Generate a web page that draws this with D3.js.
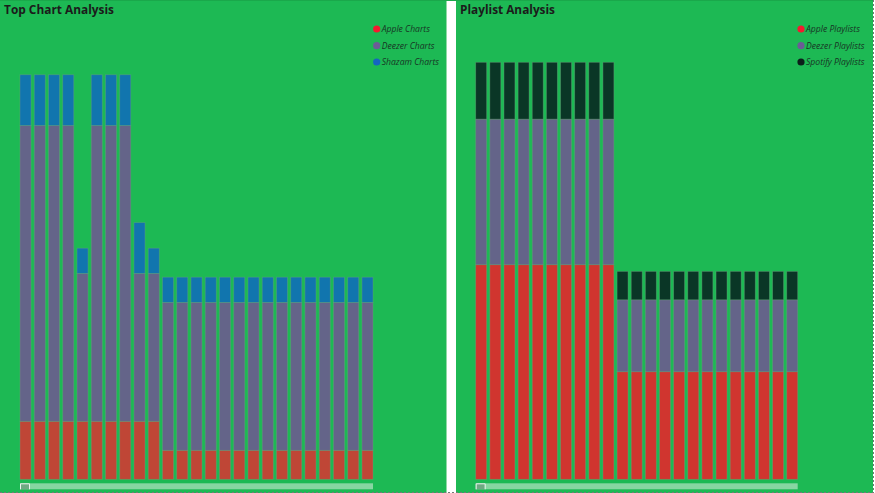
<!DOCTYPE html>
<html><head><meta charset="utf-8">
<script src="https://cdn.jsdelivr.net/npm/d3@7"></script>
<style>html,body{margin:0;padding:0;background:#fff;overflow:hidden}</style>
</head><body>
<script>
// ---- Data ----
const chartCats = d3.range(1, 26).map(i => "Track " + i);
const appleCharts  = [20,20,20,20,20,20,20,20,20,20,10,10,10,10,10,10,10,10,10,10,10,10,10,10,10];
const deezerCharts = [102,102,102,102,51,102,102,102,51,51,51,51,51,51,51,51,51,51,51,51,51,51,51,51,51];
const shazamCharts = [17.5,17.5,17.5,17.5,8.7,17.5,17.5,17.5,17.5,8.7,8.7,8.7,8.7,8.7,8.7,8.7,8.7,8.7,8.7,8.7,8.7,8.7,8.7,8.7,8.7];

const playCats = d3.range(1, 24).map(i => "Track " + i);
const applePlaylists   = [74,74,74,74,74,74,74,74,74,74,37.1,37.1,37.1,37.1,37.1,37.1,37.1,37.1,37.1,37.1,37.1,37.1,37.1];
const deezerPlaylists  = [50.2,50.2,50.2,50.2,50.2,50.2,50.2,50.2,50.2,50.2,24.8,24.8,24.8,24.8,24.8,24.8,24.8,24.8,24.8,24.8,24.8,24.8,24.8];
const spotifyPlaylists = [19.6,19.6,19.6,19.6,19.6,19.6,19.6,19.6,19.6,19.6,9.8,9.8,9.8,9.8,9.8,9.8,9.8,9.8,9.8,9.8,9.8,9.8,9.8];

const leftTitle = "Top Chart Analysis";
const rightTitle = "Playlist Analysis";
const leftSeries = ["Apple Charts", "Deezer Charts", "Shazam Charts"];
const rightSeries = ["Apple Playlists", "Deezer Playlists", "Spotify Playlists"];

// ---- Drawing ----
const W = 875, H = 493;
const svg = d3.select("body").append("svg").attr("width", W).attr("height", H);
const bg = "#1DB954";

svg.append("rect").attr("x",0).attr("y",0).attr("width",W).attr("height",H).attr("fill","#fff");
svg.append("rect").attr("x",0).attr("y",0).attr("width",447).attr("height",H).attr("fill",bg);
svg.append("rect").attr("x",456).attr("y",0).attr("width",417).attr("height",H).attr("fill",bg);
svg.append("line").attr("x1",446.5).attr("x2",446.5).attr("y1",0).attr("y2",H).attr("stroke","#8fd9a6").attr("stroke-width",1);
svg.append("line").attr("x1",0).attr("x2",873).attr("y1",0.5).attr("y2",0.5).attr("stroke","#1aa84b").attr("stroke-width",1);

function panel(opts) {
  const {x0, x1, cats, series, colors, legendColors, names, title, titleX, legendX} = opts;
  const x = d3.scaleBand().domain(cats).range([x0, x1]).paddingInner(0.225).paddingOuter(0);
  const y = d3.scaleLinear().domain([0, 145]).range([479.3, 479.3 - 145 * 2.9]);
  const rows = cats.map((c, i) => {
    const r = {cat: c};
    names.forEach((n, k) => r[n] = series[k][i]);
    return r;
  });
  const stacked = d3.stack().keys(names)(rows);
  const g = svg.append("g");
  stacked.forEach((layer, k) => {
    g.append("g").selectAll("rect").data(layer).join("rect")
      .attr("x", d => x(d.data.cat))
      .attr("width", x.bandwidth())
      .attr("y", d => y(d[1]))
      .attr("height", d => y(d[0]) - y(d[1]))
      .attr("fill", colors[k])
      .attr("stroke", "rgba(120,160,130,0.45)")
      .attr("stroke-width", 0.8);
  });
  // title
  svg.append("text").attr("x", titleX).attr("y", 14)
    .attr("font-family", "'Open Sans', sans-serif").attr("font-weight", 700)
    .attr("font-size", 13).attr("fill", "#1b1b1b").attr("textLength", title === leftTitle ? 110 : 95)
    .attr("lengthAdjust", "spacingAndGlyphs").text(title);
  // legend
  const lg = svg.append("g");
  names.forEach((n, k) => {
    const cy = [29, 45.7, 62][k];
    lg.append("circle").attr("cx", legendX).attr("cy", cy).attr("r", 3.6).attr("fill", legendColors[k]);
    lg.append("text").attr("x", legendX + 5).attr("y", cy + 3.2)
      .attr("font-family", "'Open Sans', sans-serif").attr("font-style", "italic")
      .attr("font-size", 8.6).attr("fill", "#183424").text(n);
  });
  // scrollbar
  svg.append("rect").attr("x", x0).attr("y", 483.3).attr("width", x1 - x0).attr("height", 6)
    .attr("fill", "#88d6a2");
  svg.append("rect").attr("x", x0).attr("y", 483.3).attr("width", 9).attr("height", 6)
    .attr("fill", "#6fa983");
  svg.append("path").attr("d", `M${x0+0.5},489.3 V483.8 H${x0+9.5} V489.3`)
    .attr("fill", "none").attr("stroke", "#e8f5ec").attr("stroke-width", 1);
}

panel({
  x0: 20, x1: 373, cats: chartCats,
  series: [appleCharts, deezerCharts, shazamCharts],
  names: leftSeries,
  colors: ["#BF4636", "#646489", "#1175AE"],
  legendColors: ["#F5192F", "#6B5C96", "#1565C0"],
  title: leftTitle, titleX: 4, legendX: 376.7
});
panel({
  x0: 475.7, x1: 797.7, cats: playCats,
  series: [applePlaylists, deezerPlaylists, spotifyPlaylists],
  names: rightSeries,
  colors: ["#D0352F", "#646489", "#0A3626"],
  legendColors: ["#F5192F", "#6B5C96", "#0C1F1A"],
  title: rightTitle, titleX: 460, legendX: 801
});

// dashed selection outline
svg.append("line").attr("x1",0).attr("x2",875).attr("y1",492.5).attr("y2",492.5)
  .attr("stroke","#777").attr("stroke-dasharray","2,2");
svg.append("line").attr("x1",873.5).attr("x2",873.5).attr("y1",0).attr("y2",493)
  .attr("stroke","#777").attr("stroke-dasharray","2,2");
</script>
</body></html>
